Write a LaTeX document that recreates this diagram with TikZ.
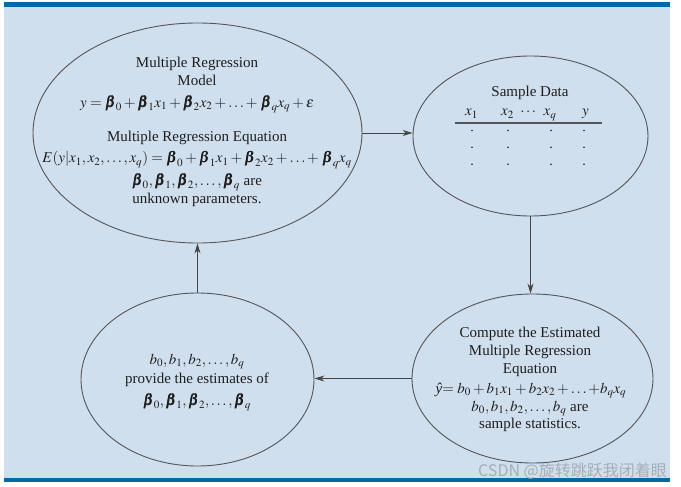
\documentclass[tikz,border=0pt]{standalone}
\usepackage{amsmath}
\usepackage{mathptmx}
\usepackage{bm}
\usepackage{fontspec}
\setmainfont{Liberation Serif}
\newfontfamily\cjkfont{Noto Sans CJK SC}
\usetikzlibrary{shapes.geometric,arrows.meta}
\definecolor{bgblue}{RGB}{208,223,238}
\definecolor{barblue}{RGB}{0,105,170}
\definecolor{linegray}{RGB}{85,85,85}
\definecolor{txtcol}{RGB}{30,30,30}
\definecolor{wmcol}{RGB}{165,173,184}
\newcommand{\bb}{\bm{\beta}}
\tikzset{
  ell/.style={ellipse, draw=linegray, line width=0.9pt, inner sep=0pt},
  txt/.style={anchor=base, inner sep=0pt, text=txtcol, font=\fontsize{15}{18}\selectfont},
  arr/.style={draw=linegray!80!black, line width=0.9pt, -{Stealth[length=10pt,width=6pt]}},
  dotm/.style={circle, fill=txtcol, inner sep=0pt, minimum size=1.8pt}
}
\begin{document}
\begin{tikzpicture}[x=1pt,y=-1pt]
\useasboundingbox (0,0) rectangle (681,487);
\fill[white] (0,0) rectangle (681,487);
\fill[bgblue] (4,2) rectangle (670,482);
\fill[barblue] (4,2) rectangle (670,7.5);
\fill[barblue] (4,478) rectangle (670,482);

% ellipses
\node[ell, minimum width=329pt, minimum height=220pt] (model) at (197.5,133) {};
\node[ell, minimum width=235pt, minimum height=160pt] (data) at (530.5,136) {};
\node[ell, minimum width=241pt, minimum height=169pt] (est) at (532.5,378.5) {};
\node[ell, minimum width=233pt, minimum height=173pt] (estim) at (197.5,379.5) {};

% model text
\node[txt] (m1) at (197,68) {Multiple Regression};
\node[txt] (m2) at (197,86) {Model};
\node[txt] (m3) at (197,107) {$y = \bb_0 + \bb_1x_1 + \bb_2x_2 +\ldots\mathord{+}\; \bb_qx_q + \epsilon$};
\node[txt] (m4) at (197,142) {Multiple Regression Equation};
\node[txt] (m5) at (197,163) {$E(y|x_1, x_2,\ldots,x_q) = \bb_0 + \bb_1x_1 + \bb_2x_2 +\ldots\mathord{+}\; \bb_qx_q$};
\node[txt] (m6) at (197,185) {$\bb_0, \bb_1, \bb_2,\ldots,\bb_q$ are};
\node[txt] (m7) at (197,204) {unknown parameters.};

% sample data
\node[txt] (s1) at (530,96) {Sample Data};
\node[txt] (h1) at (471.5,116) {$x_1$};
\node[txt] (h2) at (507.5,116) {$x_2$};
\node[txt] (h3) at (529,116) {$\cdots$};
\node[txt] (h4) at (550,116) {$x_q$};
\node[txt] (h5) at (585.5,116) {$y$};
\coordinate (rl) at (455,123);
\coordinate (rr) at (602,123);
\draw[linegray, line width=1.3pt] (rl) -- (rr);
\foreach \cx in {472,508,551,584}{
  \foreach \cy in {130.5,147.3,164.3}{
    \node[dotm] at (\cx,\cy) {};
  }
}

% estimated equation
\node[txt] (e1) at (530,337) {Compute the Estimated};
\node[txt] (e2) at (530,355) {Multiple Regression};
\node[txt] (e3) at (530,373) {Equation};
\node[txt] (e4) at (531,393) {\textit{ŷ}$= b_0 + b_1x_1 + b_2x_2 +\ldots\mathord{+}b_qx_q$};
\node[txt] (e5) at (530,411) {$b_0, b_1, b_2,\ldots,b_q$ are};
\node[txt] (e6) at (530,428) {sample statistics.};

% estimates
\node[txt] (b1) at (197,364) {$b_0, b_1, b_2,\ldots,b_q$};
\node[txt] (b2) at (197,383) {provide the estimates of};
\node[txt] (b3) at (197,405) {$\bb_0, \bb_1, \bb_2,\ldots,\bb_q$};

% connectors
\draw[arr] (model.east) -- (model.east -| data.west);
\draw[arr] (data.south) -- (data.south |- est.north);
\draw[arr] (est.west) -- (est.west -| estim.east);
\draw[arr] (estim.north) -- (estim.north |- model.south);

% watermark
\node[anchor=base east, inner sep=0pt, text=wmcol, font=\cjkfont\fontsize{16}{16}\selectfont] (wm) at (667,476) {CSDN @旋转跳跃我闭着眼};
\end{tikzpicture}
\end{document}
